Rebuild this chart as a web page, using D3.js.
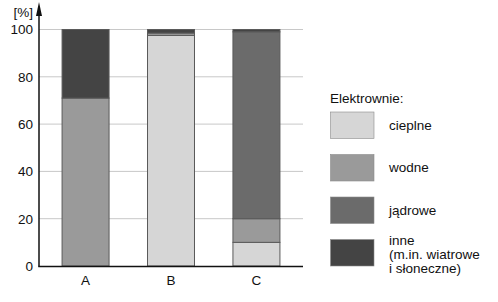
<!DOCTYPE html>
<html>
<head>
<meta charset="utf-8">
<script src="https://cdn.jsdelivr.net/npm/d3@7"></script>
<style>
  body { margin: 0; background: #fff; }
  svg { display: block; font-family: "Liberation Sans", Arial, sans-serif; }
</style>
</head>
<body>
<div id="chart"></div>
<script>
// --- Data ---
var categories = ['A', 'B', 'C'];
var seriesKeys = ['cieplne', 'wodne', 'jadrowe', 'inne'];
var seriesLabels = ['cieplne', 'wodne', 'jądrowe', ['inne', '(m.in. wiatrowe', 'i słoneczne)']];
var cieplne = [0, 97.5, 10];
var wodne = [71, 1, 10];
var jadrowe = [0, 0, 79];
var inne = [29, 1.5, 1];
var yTicks = [0, 20, 40, 60, 80, 100];
var colors = ['#d6d6d6', '#9a9a9a', '#6b6b6b', '#444444'];

var rows = categories.map(function(c, i) {
  return { cat: c, cieplne: cieplne[i], wodne: wodne[i], jadrowe: jadrowe[i], inne: inne[i] };
});

// --- Layout ---
var width = 498, height = 302;
var axisX = 39, axisRight = 303;

var svg = d3.select('#chart').append('svg')
  .attr('width', width)
  .attr('height', height);

var x = d3.scaleBand()
  .domain(categories)
  .range([axisX, axisRight])
  .paddingInner(0.45)
  .paddingOuter(0.27);

var y = d3.scaleLinear()
  .domain([0, 100])
  .range([266, 29.5]);

// Gridlines
svg.append('g')
  .selectAll('line')
  .data(yTicks.filter(function(t) { return t > 0; }))
  .join('line')
  .attr('x1', axisX)
  .attr('x2', axisRight)
  .attr('y1', function(d) { return y(d); })
  .attr('y2', function(d) { return y(d); })
  .attr('stroke', '#c8c8c8')
  .attr('stroke-width', 1);

// Stacked bars
var stack = d3.stack().keys(seriesKeys);
var layers = stack(rows);

svg.append('g')
  .selectAll('g')
  .data(layers)
  .join('g')
  .attr('fill', function(d, i) { return colors[i]; })
  .selectAll('rect')
  .data(function(d) { return d.filter(function(s) { return s[1] - s[0] > 0; }); })
  .join('rect')
  .attr('x', function(d) { return x(d.data.cat); })
  .attr('width', x.bandwidth())
  .attr('y', function(d) { return y(d[1]); })
  .attr('height', function(d) { return y(d[0]) - y(d[1]); })
  .attr('stroke', '#5a5a5a')
  .attr('stroke-width', 1);

// Y axis
var yAxis = svg.append('g')
  .attr('transform', 'translate(' + axisX + ',0)')
  .call(d3.axisLeft(y).tickValues(yTicks).tickSize(0).tickPadding(6));
yAxis.select('.domain').remove();
yAxis.selectAll('text')
  .attr('font-size', 13.5)
  .attr('fill', '#111')
  .attr('font-family', '"Liberation Sans", Arial, sans-serif');

svg.append('line')
  .attr('x1', axisX).attr('x2', axisX)
  .attr('y1', 10).attr('y2', 266.5)
  .attr('stroke', '#111')
  .attr('stroke-width', 1.5);

// arrow head
svg.append('path')
  .attr('d', 'M' + axisX + ',2 L' + (axisX - 3) + ',16 L' + (axisX + 3) + ',16 Z')
  .attr('fill', '#111');

svg.append('text')
  .attr('x', 33)
  .attr('y', 17)
  .attr('text-anchor', 'end')
  .attr('font-size', 13.5)
  .attr('fill', '#111')
  .text('[%]');

// X axis
var xAxis = svg.append('g')
  .attr('transform', 'translate(0,266)')
  .call(d3.axisBottom(x).tickSize(0).tickPadding(9));
xAxis.select('.domain').remove();
xAxis.selectAll('text')
  .attr('font-size', 13.5)
  .attr('fill', '#111')
  .attr('font-family', '"Liberation Sans", Arial, sans-serif');

svg.append('line')
  .attr('x1', axisX - 0.75).attr('x2', axisRight)
  .attr('y1', 266.5).attr('y2', 266.5)
  .attr('stroke', '#111')
  .attr('stroke-width', 1.5);

// --- Legend ---
var legend = svg.append('g').attr('transform', 'translate(330,0)');
legend.append('text')
  .attr('x', 0)
  .attr('y', 103)
  .attr('font-size', 13.5)
  .attr('fill', '#111')
  .text('Elektrownie:');

var item = legend.selectAll('g.item')
  .data(seriesLabels)
  .join('g')
  .attr('class', 'item')
  .attr('transform', function(d, i) { return 'translate(0,' + (112 + i * 42.5) + ')'; });

item.append('rect')
  .attr('x', 0.5)
  .attr('y', 0)
  .attr('width', 43.5)
  .attr('height', 26.5)
  .attr('fill', function(d, i) { return colors[i]; })
  .attr('stroke', '#8a8a8a')
  .attr('stroke-width', 0.6);

item.append('text')
  .attr('x', 59)
  .attr('font-size', 13.5)
  .attr('fill', '#111')
  .each(function(d) {
    var t = d3.select(this);
    if (Array.isArray(d)) {
      d.forEach(function(line, j) {
        t.append('tspan').attr('x', 59).attr('y', 5 + j * 14.3).text(line);
      });
    } else {
      t.attr('y', 17.5).text(d);
    }
  });
</script>
</body>
</html>
